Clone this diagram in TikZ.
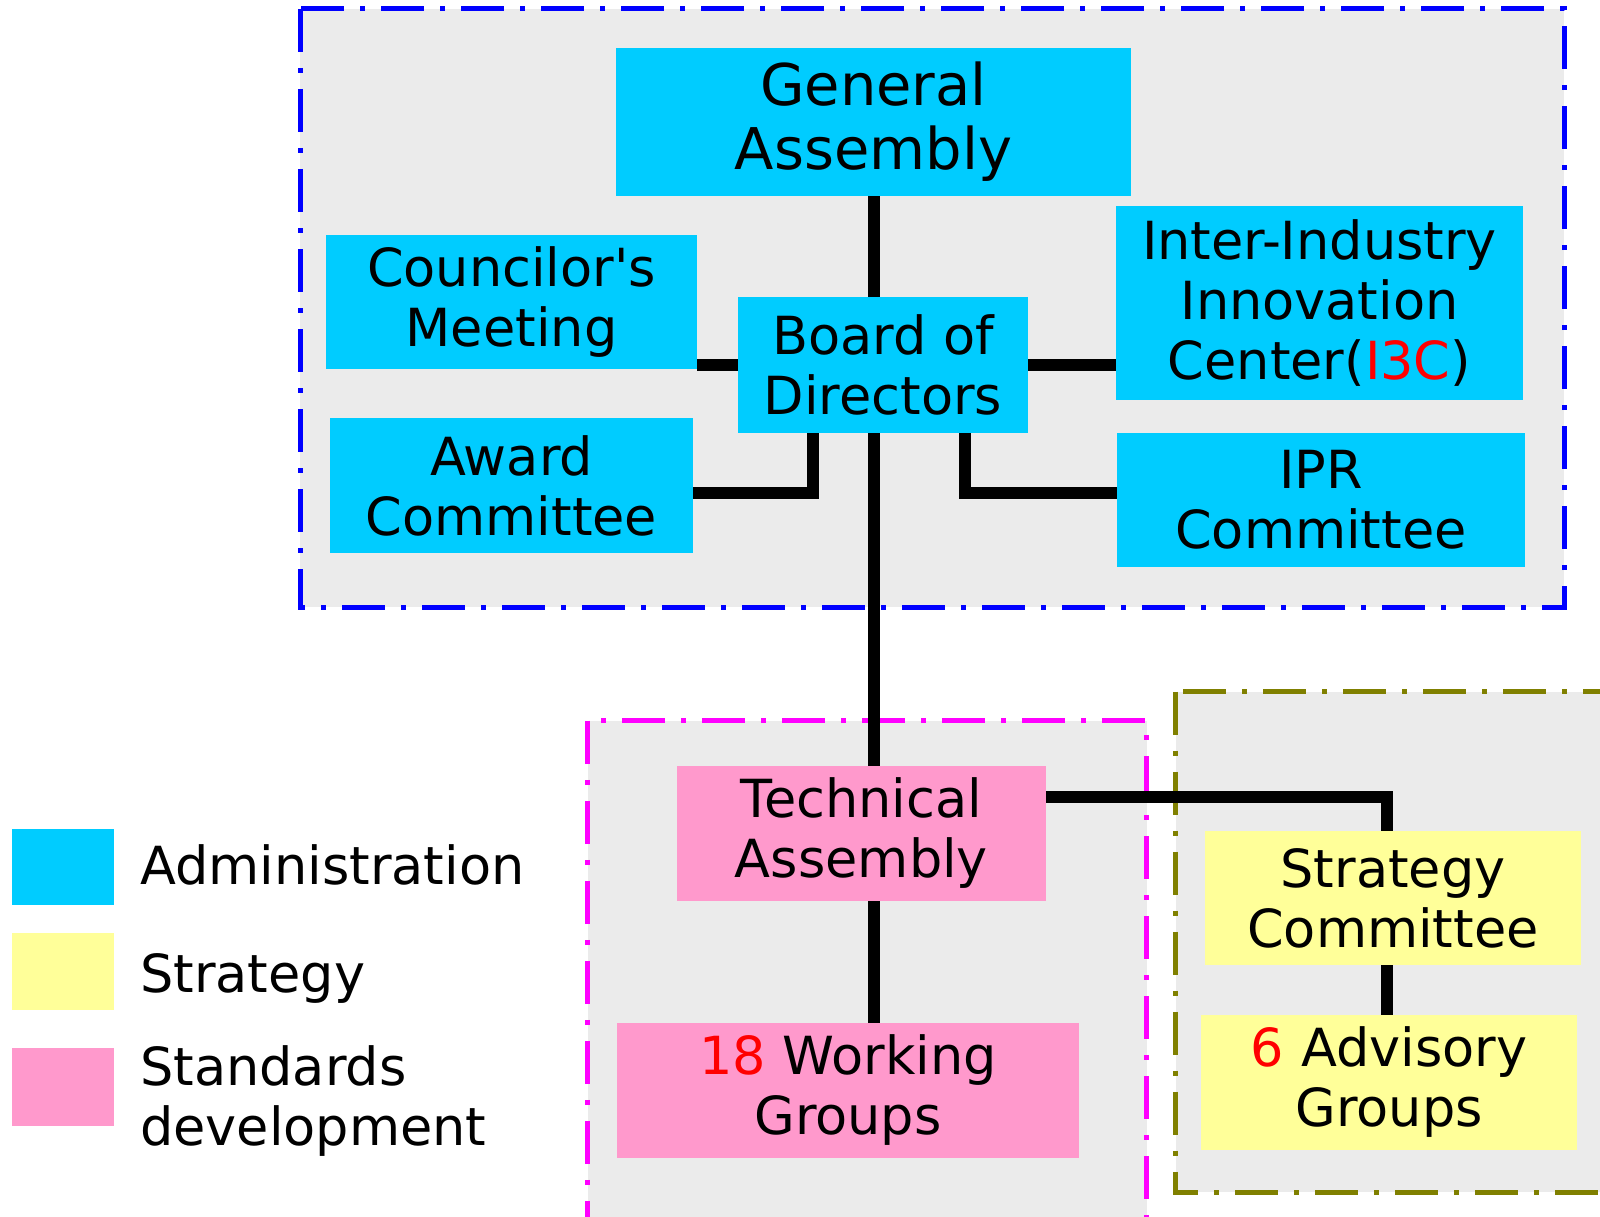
\documentclass[tikz,border=0pt]{standalone}
\usepackage{fontspec}
\setmainfont{DejaVu Sans}
\definecolor{admin}{HTML}{00CCFF}
\definecolor{strat}{HTML}{FFFF99}
\definecolor{stdev}{HTML}{FF99CC}
\definecolor{framepink}{HTML}{FF00FF}
\definecolor{frameolive}{HTML}{808000}
\tikzset{
  unit/.style={inner sep=0pt,align=center,font=\fontsize{52.5}{60}\selectfont},
  adminbox/.style={unit,fill=admin},
  stratbox/.style={unit,fill=strat},
  stdevbox/.style={unit,fill=stdev},
  grpframe/.style={line width=5pt,dash pattern=on 43pt off 16pt on 5pt off 16pt,fill=black!8},
  link/.style={line width=12pt}
}
\begin{document}
\begin{tikzpicture}[x=1pt,y=-1pt]
\useasboundingbox (0,0) rectangle (1600,1217);
\clip (0,0) rectangle (1600,1217);
% group frames
\draw[grpframe,draw=blue](300,9) rectangle (1564,607);
\draw[grpframe,draw=framepink](587.5,720.5) rectangle (1146.5,1240);
\draw[grpframe,draw=frameolive](1175.5,691.5) rectangle (1620,1192);
% administration
\node[adminbox,minimum width=515pt,minimum height=148pt,font=\fontsize{57.5}{64}\selectfont] (GA) at (873.5,122) {General\\Assembly};
\node[adminbox,minimum width=371pt,minimum height=134pt] (CM) at (511.5,302) {Councilor\textquotesingle s\\Meeting};
\node[adminbox,minimum width=290pt,minimum height=136pt] (BoD) at (883,365) {Board of\\Directors};
\node[adminbox,minimum width=407pt,minimum height=194pt] (I3C) at (1319.5,303) {Inter-Industry\\Innovation\\Center(\textcolor{red}{I3C})};
\node[adminbox,minimum width=363pt,minimum height=135pt] (AC) at (511.5,485.5) {Award\\Committee};
\node[adminbox,minimum width=408pt,minimum height=134pt] (IPR) at (1321,500) {IPR\\Committee};
% standards and strategy
\node[stdevbox,minimum width=369pt,minimum height=135pt] (TA) at (861.5,833.5) {Technical\\Assembly};
\node[stdevbox,minimum width=462pt,minimum height=135pt] (WG) at (848,1090.5) {\textcolor{red}{18} Working\\Groups};
\node[stratbox,minimum width=376pt,minimum height=134pt] (SC) at (1393,898) {Strategy\\Committee};
\node[stratbox,minimum width=376pt,minimum height=135pt] (AG) at (1389,1082.5) {\textcolor{red}{6} Advisory\\Groups};
% links
\draw[link](GA.south)--(GA.south|-BoD.north);
\draw[link](BoD.west)--(CM.east|-BoD.west);
\draw[link](BoD.east)--(I3C.west|-BoD.east);
\draw[link]([xshift=-70pt]BoD.south)|-([yshift=-7.5pt]AC.east);
\draw[link]([xshift=82pt]BoD.south)|-([yshift=7pt]IPR.west);
\draw[link](BoD.south-|GA.south)--(TA.north-|GA.south);
\draw[link](TA.south-|GA.south)--(WG.north-|GA.south);
\draw[link]([yshift=-31pt]TA.north east)-|([xshift=-6pt]SC.north);
\draw[link]([xshift=-6pt]SC.south)--([xshift=-6pt]SC.south|-AG.north);
% legend
\node[adminbox,minimum width=102pt,minimum height=76pt] (keyA) at (63,867) {};
\node[stratbox,minimum width=102pt,minimum height=77pt] (keyS) at (63,971.5) {};
\node[stdevbox,minimum width=102pt,minimum height=78pt] (keyD) at (63,1087) {};
\node[unit,anchor=base west] (keyAtext) at (140,884) {Administration};
\node[unit,anchor=base west] (keyStext) at (140,992) {Strategy};
\node[unit,anchor=west,align=left] (keyDtext) at (140,1101) {Standards\\development};
\end{tikzpicture}
\end{document}
